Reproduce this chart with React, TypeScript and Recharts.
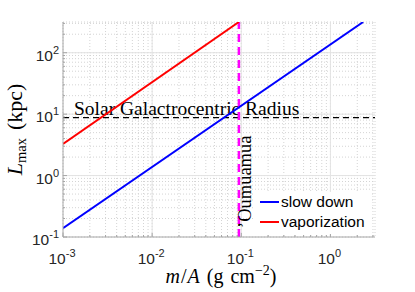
import React from 'react';
import { LineChart, Line, XAxis, YAxis, CartesianGrid, ReferenceLine, Legend } from 'recharts';

// decades and minor steps for the log axes
const xDecades = [0.001, 0.01, 0.1, 1];
const yDecades = [0.1, 1, 10, 100];
const minorSteps = [2, 3, 4, 5, 6, 7, 8, 9];
const X_MAX = 3.1623;
const Y_MAX = 316.23;

// series values (m/A in g cm^-2, L in kpc)
const slowDownMass = [0.001, 2.33];
const slowDownL = [0.139, 316.23];
const vaporMass = [0.001, 0.094];
const vaporL = [3.27, 316.23];

const solarRadius = 8.8;
const oumuamuaMass = 0.094;

const slowDown = slowDownMass.map((x, i) => ({ x, y: slowDownL[i] }));
const vaporization = vaporMass.map((x, i) => ({ x, y: vaporL[i] }));

const withMinors = (decades: number[], max: number) =>
  decades.flatMap((d) => [d, ...minorSteps.map((m) => d * m)]).filter((v) => v <= max * 1.0001);

const xTicks = withMinors(xDecades, X_MAX);
const yTicks = withMinors(yDecades, Y_MAX);

const isMajor = (v: number) => Math.abs(Math.log10(v) - Math.round(Math.log10(v))) < 1e-6;

const AXIS = '#262626';
const FRAME = '#a6a6a6';
const SANS = '"Liberation Sans", Arial, sans-serif';
const SERIF = '"Liberation Serif", "Times New Roman", serif';

const PowerLabel = ({ x, y, v, anchor }: any) => {
  const exp = Math.round(Math.log10(v));
  return (
    <text x={x} y={y} textAnchor={anchor} fontFamily={SANS} fontSize={15.5} fill={AXIS}>
      <tspan>10</tspan>
      <tspan dy={-7} fontSize={11}>{String(exp)}</tspan>
    </text>
  );
};

const makeTick = (side: 'bottom' | 'top' | 'left' | 'right') => (props: any) => {
  const { x, y, payload } = props;
  const v = payload.value;
  const len = isMajor(v) ? 4 : 2;
  let line;
  if (side === 'bottom') line = <line x1={x} x2={x} y1={y} y2={y - len} stroke={FRAME} />;
  else if (side === 'top') line = <line x1={x} x2={x} y1={y} y2={y + len} stroke={FRAME} />;
  else if (side === 'left') line = <line x1={x} x2={x + len} y1={y} y2={y} stroke={FRAME} />;
  else line = <line x1={x} x2={x - len} y1={y} y2={y} stroke={FRAME} />;
  return (
    <g>
      {line}
      {isMajor(v) && side === 'bottom' && <PowerLabel x={x - 1} y={y + 27} v={v} anchor="middle" />}
      {isMajor(v) && side === 'left' && <PowerLabel x={x - 4} y={y + 8} v={v} anchor="end" />}
    </g>
  );
};

const SolarLabel = (props: any) => {
  const vb = props.viewBox;
  return (
    <text x={vb.x + 11} y={vb.y - 3} fontFamily={SERIF} fontSize={19.5} fill="#000">
      Solar Galactrocentric Radius
    </text>
  );
};

const OumuamuaLabel = (props: any) => {
  const vb = props.viewBox;
  const tx = vb.x + 12;
  const ty = vb.y + vb.height - 9;
  return (
    <text x={tx} y={ty} transform={`rotate(-90 ${tx} ${ty})`} fontFamily={SERIF} fontSize={18.5} fill="#000">
      {'\u2019Oumuamua'}
    </text>
  );
};

const XLabel = (props: any) => {
  const vb = props.viewBox;
  return (
    <text x={vb.x + vb.width / 2 + 2} y={vb.y + 46} textAnchor="middle" fontFamily={SERIF} fontSize={20} fill="#000">
      <tspan fontStyle="italic">m</tspan>
      <tspan dx={1}>/</tspan>
      <tspan fontStyle="italic" dx={1}>A</tspan>
      <tspan dx={7}>(g</tspan>
      <tspan dx={7}>cm</tspan>
      <tspan dy={-8} fontSize={14}>{'\u22122'}</tspan>
      <tspan dy={8}>)</tspan>
    </text>
  );
};

const YLabel = (props: any) => {
  const vb = props.viewBox;
  const cx = 22;
  const cy = vb.y + vb.height / 2;
  return (
    <text x={cx} y={cy} textAnchor="middle" transform={`rotate(-90 ${cx} ${cy})`} fontFamily={SERIF} fontSize={22} fill="#000">
      <tspan fontStyle="italic">L</tspan>
      <tspan dy={4} fontSize={14.5}>max</tspan>
      <tspan dy={-4} dx={8}>(kpc)</tspan>
    </text>
  );
};

const LegendBox = () => (
  <div style={{ background: '#fff', padding: '0 6px 2px 5px', fontFamily: SANS, fontSize: 15.5, color: '#000' }}>
    {[
      { name: 'slow down', color: '#0000ff' },
      { name: 'vaporization', color: '#ff0000' },
    ].map((item) => (
      <div key={item.name} style={{ display: 'flex', alignItems: 'center', height: 20 }}>
        <span style={{ display: 'inline-block', width: 19, height: 2, background: item.color, marginRight: 2 }} />
        <span>{item.name}</span>
      </div>
    ))}
  </div>
);

export default function App() {
  return (
    <div style={{ position: 'absolute', left: 0, top: 0, width: 415, height: 292, background: '#fff' }}>
      <LineChart width={415} height={292} margin={{ top: 22, right: 40, bottom: 5, left: 5 }}>
        <CartesianGrid stroke="#d4d4d4" strokeDasharray="1 2" />
        {xDecades.slice(1).map((d) => (
          <ReferenceLine key={`gx${d}`} x={d} stroke="#e3e3e3" />
        ))}
        {yDecades.slice(1).map((d) => (
          <ReferenceLine key={`gy${d}`} y={d} stroke="#e3e3e3" />
        ))}
        <XAxis
          dataKey="x"
          type="number"
          scale="log"
          domain={[0.001, X_MAX]}
          ticks={xTicks}
          interval={0}
          allowDataOverflow
          height={50}
          tickSize={0}
          tickMargin={0}
          tickLine={false}
          stroke={FRAME}
          tick={makeTick('bottom')}
          label={<XLabel />}
        />
        <XAxis
          xAxisId="top"
          orientation="top"
          dataKey="x"
          type="number"
          scale="log"
          domain={[0.001, X_MAX]}
          ticks={xTicks}
          interval={0}
          allowDataOverflow
          height={0}
          tickSize={0}
          tickMargin={0}
          tickLine={false}
          stroke={FRAME}
          tick={makeTick('top')}
        />
        <YAxis
          dataKey="y"
          type="number"
          scale="log"
          domain={[0.1, Y_MAX]}
          ticks={yTicks}
          interval={0}
          allowDataOverflow
          width={58}
          tickSize={0}
          tickMargin={0}
          tickLine={false}
          stroke={FRAME}
          tick={makeTick('left')}
          label={<YLabel />}
        />
        <YAxis
          yAxisId="right"
          orientation="right"
          dataKey="y"
          type="number"
          scale="log"
          domain={[0.1, Y_MAX]}
          ticks={yTicks}
          interval={0}
          allowDataOverflow
          width={0}
          tickSize={0}
          tickMargin={0}
          tickLine={false}
          stroke={FRAME}
          tick={makeTick('right')}
        />
        <ReferenceLine y={solarRadius} stroke="#000" strokeWidth={1.2} strokeDasharray="6 4" label={<SolarLabel />} />
        <ReferenceLine x={oumuamuaMass} stroke="#ff00ff" strokeWidth={2.5} strokeDasharray="8 5" label={<OumuamuaLabel />} />
        <Line data={slowDown} dataKey="y" name="slow down" stroke="#0000ff" strokeWidth={2} dot={false} isAnimationActive={false} />
        <Line data={vaporization} dataKey="y" name="vaporization" stroke="#ff0000" strokeWidth={2} dot={false} isAnimationActive={false} />
        <Legend
          layout="vertical"
          align="center"
          verticalAlign="middle"
          content={<LegendBox />}
          wrapperStyle={{ position: 'absolute', left: 255, top: 192, width: 'auto', height: 'auto' }}
        />
      </LineChart>
    </div>
  );
}
